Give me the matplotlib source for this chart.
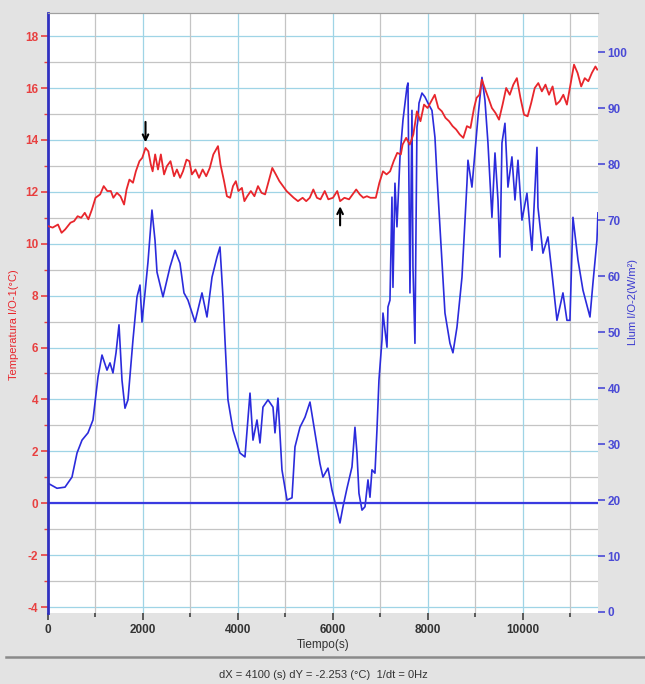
import matplotlib
matplotlib.use("Agg")
import matplotlib.pyplot as plt
from matplotlib.ticker import MultipleLocator

plt.rcParams['font.family'] = ['Liberation Sans', 'DejaVu Sans']
plt.rcParams['axes.unicode_minus'] = False

# ---- data ----
temp_t = [0, 98, 210, 286, 361, 474, 549, 624, 699, 774, 850, 925, 1000, 1098, 1173, 1248,
          1323, 1376, 1451, 1526, 1602, 1654, 1714, 1789, 1850, 1925, 1985, 2053, 2113, 2165,
          2203, 2256, 2316, 2376, 2444, 2504, 2579, 2654, 2714, 2782, 2842, 2917, 2977, 3030,
          3105, 3180, 3256, 3331, 3406, 3481, 3579, 3632, 3707, 3767, 3835, 3895, 3955, 4008,
          4083, 4135, 4195, 4271, 4346, 4421, 4496, 4571, 4647, 4722, 4797, 4872, 4947, 5023,
          5098, 5173, 5263, 5361, 5436, 5511, 5586, 5662, 5737, 5827, 5902, 6000, 6090, 6150,
          6241, 6338, 6414, 6489, 6564, 6639, 6714, 6789, 6902, 6977, 7053, 7128, 7203, 7278,
          7353, 7429, 7466, 7541, 7617, 7692, 7767, 7842, 7917, 7992, 8068, 8143, 8218, 8293,
          8368, 8444, 8519, 8594, 8669, 8744, 8820, 8895, 8970, 9023, 9083, 9135, 9195, 9271,
          9346, 9421, 9496, 9571, 9647, 9722, 9797, 9872, 9947, 10023, 10098, 10173, 10248,
          10323, 10398, 10474, 10549, 10624, 10699, 10774, 10850, 10925, 11000, 11075, 11150,
          11226, 11301, 11376, 11451, 11526, 11564]
temp_c = [10.68, 10.62, 10.74, 10.42, 10.55, 10.81, 10.87, 11.06, 11.0, 11.19, 10.94, 11.32,
          11.77, 11.9, 12.22, 12.03, 12.03, 11.77, 11.96, 11.83, 11.51, 12.09, 12.47, 12.35,
          12.79, 13.18, 13.31, 13.69, 13.56, 13.05, 12.79, 13.44, 12.86, 13.44, 12.67, 12.99,
          13.18, 12.6, 12.86, 12.54, 12.79, 13.24, 13.18, 12.67, 12.86, 12.54, 12.86, 12.6,
          12.92, 13.44, 13.76, 13.05, 12.41, 11.83, 11.77, 12.22, 12.41, 12.03, 12.15, 11.64,
          11.83, 12.03, 11.83, 12.22, 11.96, 11.9, 12.41, 12.92, 12.67, 12.41, 12.22, 12.03,
          11.9, 11.77, 11.64, 11.77, 11.64, 11.77, 12.09, 11.77, 11.71, 12.03, 11.71, 11.77,
          12.03, 11.64, 11.77, 11.71, 11.9, 12.09, 11.9, 11.77, 11.83, 11.77, 11.77, 12.35,
          12.79, 12.67, 12.79, 13.18, 13.5, 13.44, 13.82, 14.08, 13.82, 14.21, 15.1, 14.72,
          15.36, 15.23, 15.49, 15.74, 15.23, 15.1, 14.85, 14.72, 14.53, 14.4, 14.21, 14.08,
          14.53, 14.46, 15.23, 15.62, 15.74, 16.32, 16.0, 15.62, 15.23, 15.04, 14.78, 15.36,
          16.0, 15.74, 16.13, 16.38, 15.62, 14.97, 14.91, 15.42, 16.0, 16.19, 15.87, 16.13,
          15.74, 16.06, 15.36, 15.49, 15.74, 15.36, 16.13, 16.9, 16.58, 16.06, 16.38, 16.26,
          16.58, 16.83, 16.71]

light_t = [0, 189, 358, 505, 611, 716, 842, 947, 1053, 1137, 1242, 1305, 1368, 1432, 1495, 1558,
           1621, 1684, 1789, 1874, 1937, 1979, 2042, 2105, 2189, 2253, 2295, 2421, 2568, 2674,
           2779, 2863, 2947, 3095, 3242, 3347, 3453, 3558, 3621, 3684, 3726, 3789, 3895, 4042,
           4147, 4253, 4316, 4400, 4463, 4526, 4632, 4737, 4779, 4842, 4926, 5032, 5137, 5200,
           5305, 5411, 5516, 5621, 5726, 5789, 5895, 5979, 6084, 6147, 6211, 6295, 6400, 6463,
           6505, 6547, 6611, 6674, 6737, 6779, 6821, 6884, 6926, 6968, 7032, 7053, 7137, 7158,
           7200, 7242, 7263, 7305, 7347, 7411, 7474, 7558, 7579, 7621, 7663, 7684, 7726, 7768,
           7789, 7811, 7874, 7937, 8000, 8084, 8147, 8189, 8253, 8358, 8463, 8526, 8611, 8716,
           8821, 8842, 8926, 8989, 9053, 9137, 9200, 9263, 9347, 9411, 9474, 9516, 9558, 9621,
           9684, 9768, 9832, 9895, 9979, 10084, 10189, 10295, 10316, 10421, 10526, 10611, 10716,
           10842, 10926, 10989, 11053, 11158, 11263, 11411, 11474, 11558, 11579]
light_w = [23.0, 22.1, 22.3, 24.1, 28.4, 30.7, 32.0, 34.3, 42.0, 45.9, 43.2, 44.5, 42.7, 46.3, 51.3, 41.4,
           36.4, 37.9, 48.6, 56.3, 58.4, 51.8, 57.0, 62.5, 71.8, 66.4, 60.7, 56.3, 61.6, 64.6,
           62.3, 57.0, 55.7, 51.8, 57.0, 52.7, 59.8, 63.4, 65.2, 56.3, 48.6, 37.9, 32.5, 28.4,
           27.7, 39.1, 30.7, 34.3, 30.2, 36.6, 37.9, 36.6, 32.0, 38.2, 25.4, 20.0, 20.4, 29.5,
           33.0, 34.8, 37.5, 32.0, 26.5, 24.1, 25.7, 21.8, 18.2, 15.9, 18.8, 22.1, 25.9, 33.0,
           28.4, 21.2, 18.2, 18.8, 23.6, 20.5, 25.4, 24.8, 32.5, 41.4, 48.6, 53.4, 47.3, 54.5,
           55.7, 74.1, 58.0, 76.6, 68.8, 81.3, 87.9, 93.8, 94.5, 57.0, 89.6, 61.6, 48.0, 86.6,
           87.9, 90.9, 92.7, 92.0, 90.9, 89.6, 84.8, 78.0, 68.8, 53.4, 48.0, 46.3, 50.9, 59.8,
           76.6, 80.7, 75.9, 82.0, 88.4, 95.5, 91.4, 83.8, 70.5, 82.0, 73.6, 63.4, 83.8, 87.3,
           75.9, 81.3, 73.6, 80.7, 70.0, 74.8, 64.6, 83.0, 72.3, 64.1, 67.0, 60.5, 52.1,
           57.0, 52.1, 52.1, 70.5, 62.9, 57.5, 52.7, 58.8, 66.4, 71.3]

x_ticks = [0, 2000, 4000, 6000, 8000, 10000]
temp_ticks = [-4, -2, 0, 2, 4, 6, 8, 10, 12, 14, 16, 18]
light_ticks = [0, 10, 20, 30, 40, 50, 60, 70, 80, 90, 100]

RED = '#e8262c'
BLUE = '#2b2bdc'
TICK_RED = '#e84040'
TICK_BLUE = '#4a4ad6'
BG = '#e3e3e3'

fig = plt.figure(figsize=(6.45, 6.84), dpi=100, facecolor=BG)
ax = fig.add_axes([48/645, 1-613/684, 550/645, 600/684])
ax2 = ax.twinx()

ax.set_xlim(0, 11580)
ax.set_ylim(-4.23, 18.89)
ax2.set_ylim(-0.18, 107.0)

ax.set_zorder(ax2.get_zorder() + 1)
ax.patch.set_visible(False)
ax2.patch.set_visible(True)
ax2.patch.set_facecolor('white')

# grid (drawn on the back axes)
for v in range(-4, 19):
    ax2.axhline(-0.18 + (v + 4.23) * (107.18 / 23.12),
                color='#9fd4e6' if v % 2 == 0 else '#c4c4c4', lw=0.9, zorder=0)
for t in range(1000, 12000, 1000):
    ax2.axvline(t, color='#9fd4e6' if t % 2000 == 0 else '#c4c4c4', lw=0.9, zorder=0)

ax2.plot(light_t, light_w, color=BLUE, lw=1.2, zorder=3)
ax.axhline(0, color='#3a3ae0', lw=1.6, zorder=2)
ax.plot(temp_t, temp_c, color=RED, lw=1.3, zorder=4)

# arrows
ax.annotate('', xy=(2053, 13.8), xytext=(2053, 14.8),
            arrowprops=dict(arrowstyle='->', color='black', lw=1.5, mutation_scale=10))
ax.annotate('', xy=(6150, 11.55), xytext=(6150, 10.6),
            arrowprops=dict(arrowstyle='->', color='black', lw=1.5, mutation_scale=10))

# ticks
ax2.set_yticks(light_ticks)
ax.set_xticks(x_ticks)
ax.xaxis.set_minor_locator(MultipleLocator(1000))
ax.set_yticks(temp_ticks)
ax.yaxis.set_minor_locator(MultipleLocator(1))
ax.set_xlim(0, 11580)

ax.tick_params(axis='x', which='major', length=5, width=1.2, color='#404040',
               labelsize=8.5, labelcolor='#333333', pad=3)
ax.tick_params(axis='x', which='minor', length=3, width=1.2, color='#404040')
ax.tick_params(axis='y', which='major', length=5, width=1.2, color=TICK_RED,
               labelsize=8.5, labelcolor=TICK_RED, pad=2)
ax.tick_params(axis='y', which='minor', length=3, width=1.0, color=TICK_RED)
ax2.tick_params(axis='y', which='major', length=5, width=1.2, color=TICK_BLUE,
                labelsize=8.5, labelcolor=TICK_BLUE, pad=2)
for lab in ax.get_xticklabels() + ax.get_yticklabels() + ax2.get_yticklabels():
    lab.set_fontweight('bold')

for a in (ax, ax2):
    a.spines['right'].set_visible(False)
    a.spines['bottom'].set_visible(False)
    a.spines['top'].set_color('#a0a0a0')
    a.spines['top'].set_linewidth(0.8)
    a.spines['left'].set_visible(False)
ax.spines['left'].set_visible(True)
ax.spines['left'].set_color('#3030c0')
ax.spines['left'].set_linewidth(2)

fig.text(14/645, 1-325/684, 'Temperatura I/O-1(°C)', rotation=90, color=RED,
         fontsize=8, ha='center', va='center')
fig.text(633/645, 1-302/684, 'Llum I/O-2(W/m²)', rotation=90, color='#3a3ad0',
         fontsize=8, ha='center', va='center')
fig.text(323/645, 1-645/684, 'Tiempo(s)', color='#333333', fontsize=8.5,
         ha='center', va='center')

# status bar
fig.add_artist(plt.Line2D([6/645, 1], [1-657/684, 1-657/684], color='#8a8a8a', lw=1.8,
                          transform=fig.transFigure))
fig.text(323/645, 1-675/684, 'dX = 4100 (s) dY = -2.253 (°C)  1/dt = 0Hz',
         color='#333333', fontsize=8, ha='center', va='center')

fig.savefig('out.png', dpi=100, facecolor=BG)
